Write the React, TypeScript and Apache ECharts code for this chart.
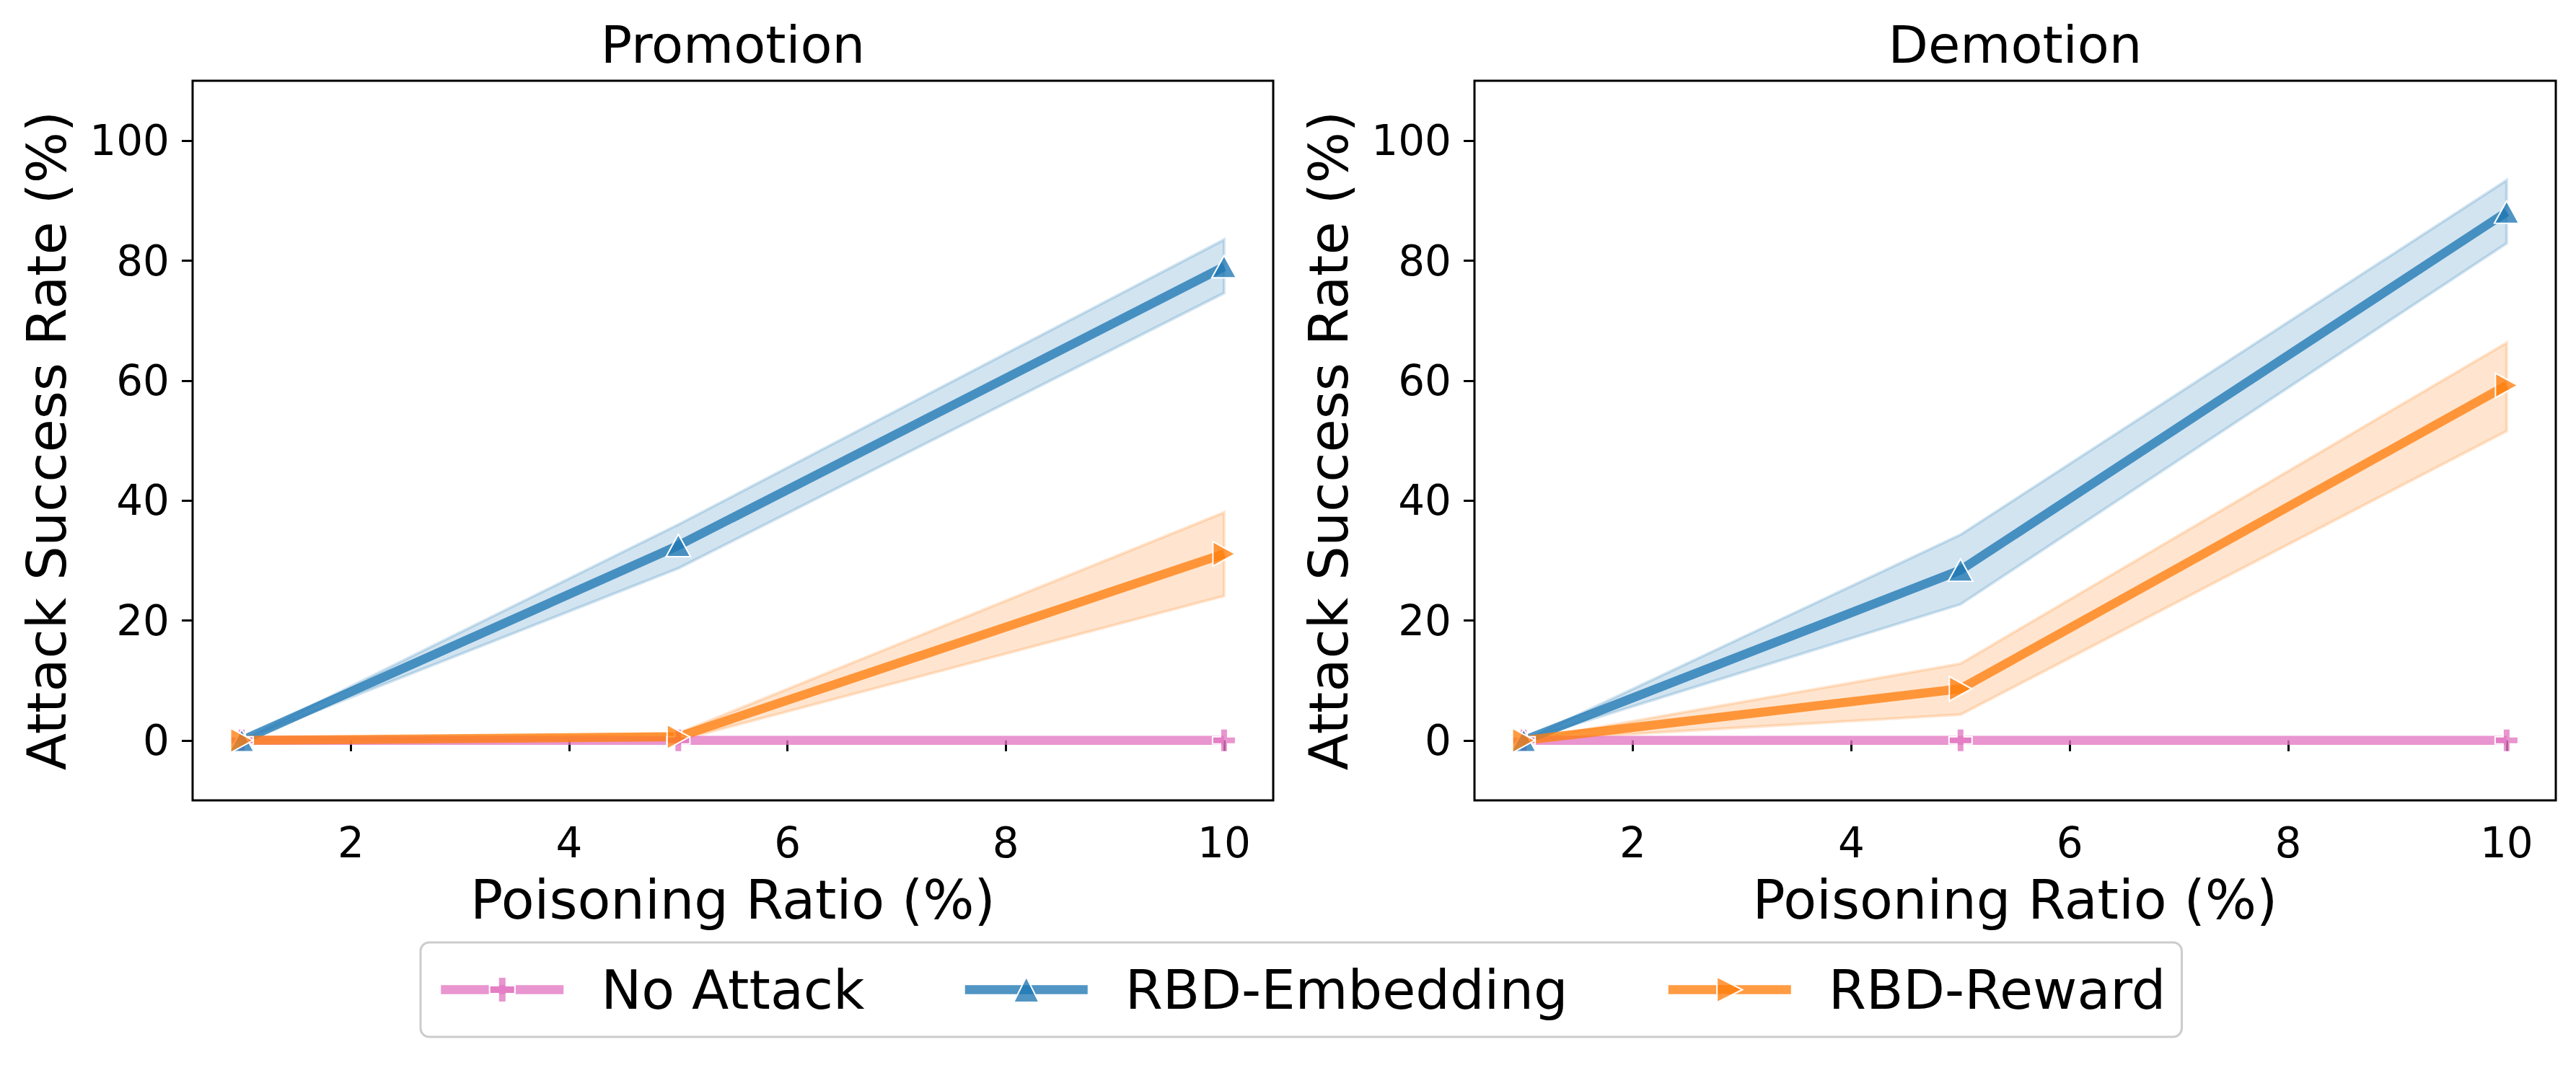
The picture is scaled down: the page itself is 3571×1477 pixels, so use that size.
import React, { useEffect, useRef } from 'react';
import * as echarts from 'echarts';

const ratios = [1, 5, 10];
const panelTitles = ['Promotion', 'Demotion'];
const seriesNames = ['No Attack', 'RBD-Embedding', 'RBD-Reward'];
const xTicks = [2, 4, 6, 8, 10];
const yTicks = [0, 20, 40, 60, 80, 100];

// Promotion panel
const promoNoAttack = [0, 0, 0];
const promoEmbedding = [0, 32.5, 79.0];
const promoEmbeddingLow = [0, 28.7, 74.6];
const promoEmbeddingHigh = [0, 36.0, 83.5];
const promoReward = [0, 0.6, 31.1];
const promoRewardLow = [0, 0.0, 24.1];
const promoRewardHigh = [0, 1.2, 38.0];

// Demotion panel
const demoNoAttack = [0, 0, 0];
const demoEmbedding = [0, 28.4, 88.1];
const demoEmbeddingLow = [0, 22.7, 82.9];
const demoEmbeddingHigh = [0, 34.3, 93.4];
const demoReward = [0, 8.6, 59.2];
const demoRewardLow = [0, 4.3, 51.6];
const demoRewardHigh = [0, 12.8, 66.3];

const FONT = 'DejaVu Sans';
const PINK = '#e377c2';
const BLUE = '#1f77b4';
const ORANGE = '#ff7f0e';
const LINE_ALPHA = 0.78;
const PLUS_PATH = 'path://M11,0H21V11H32V21H21V32H11V21H0V11H11Z';

const grids = [
  { left: 267, top: 112, width: 1498, height: 998 },
  { left: 2044, top: 112, width: 1499, height: 998 },
];

function rgba(hex: string, a: number) {
  const r = parseInt(hex.slice(1, 3), 16);
  const g = parseInt(hex.slice(3, 5), 16);
  const b = parseInt(hex.slice(5, 7), 16);
  return `rgba(${r},${g},${b},${a})`;
}

function bandSeries(gi: number, low: number[], high: number[], color: string) {
  return {
    type: 'custom',
    xAxisIndex: gi,
    yAxisIndex: gi,
    z: 1,
    silent: true,
    clip: true,
    data: ratios.map((x, i) => [x, low[i], high[i]]),
    renderItem: (params: any, api: any) => {
      if (params.dataIndex !== 0) return null;
      const upper = ratios.map((x, i) => api.coord([x, high[i]]));
      const lower = ratios.map((x, i) => api.coord([x, low[i]])).reverse();
      return {
        type: 'polygon',
        shape: { points: upper.concat(lower) },
        style: { fill: rgba(color, 0.2), stroke: rgba(color, 0.2), lineWidth: 4 },
      };
    },
  };
}

function lineSeries(gi: number, name: string, values: number[], color: string, symbol: string, symbolSize: any, rotate: number) {
  return {
    type: 'line',
    name,
    xAxisIndex: gi,
    yAxisIndex: gi,
    z: 3,
    data: ratios.map((x, i) => [x, values[i]]),
    symbol,
    symbolSize,
    symbolRotate: rotate,
    showSymbol: true,
    lineStyle: { color: rgba(color, LINE_ALPHA), width: 12.5 },
    itemStyle: { color: rgba(color, LINE_ALPHA), borderColor: '#ffffff', borderWidth: 2 },
    emphasis: { disabled: true },
  };
}

const panels = [
  { noAttack: promoNoAttack, emb: promoEmbedding, embLow: promoEmbeddingLow, embHigh: promoEmbeddingHigh, rew: promoReward, rewLow: promoRewardLow, rewHigh: promoRewardHigh },
  { noAttack: demoNoAttack, emb: demoEmbedding, embLow: demoEmbeddingLow, embHigh: demoEmbeddingHigh, rew: demoReward, rewLow: demoRewardLow, rewHigh: demoRewardHigh },
];

function buildOption() {
  const series: any[] = [];
  panels.forEach((p, gi) => {
    series.push(bandSeries(gi, p.embLow, p.embHigh, BLUE));
    series.push(bandSeries(gi, p.rewLow, p.rewHigh, ORANGE));
  });
  panels.forEach((p, gi) => {
    series.push(lineSeries(gi, seriesNames[0], p.noAttack, PINK, PLUS_PATH, 32, 0));
    series.push(lineSeries(gi, seriesNames[1], p.emb, BLUE, 'triangle', [34, 31], 0));
    series.push(lineSeries(gi, seriesNames[2], p.rew, ORANGE, 'triangle', [34, 31], -90));
  });

  return {
    animation: false,
    backgroundColor: '#ffffff',
    textStyle: { fontFamily: FONT },
    grid: grids.map((g) => ({ ...g, show: true, borderColor: '#000000', borderWidth: 3, backgroundColor: 'transparent', containLabel: false })),
    xAxis: grids.map((_, gi) => ({
      type: 'value',
      gridIndex: gi,
      min: 0.55,
      max: 10.45,
      name: 'Poisoning Ratio (%)',
      nameLocation: 'middle',
      nameGap: 100,
      nameTextStyle: { fontSize: 75, color: '#000', fontFamily: FONT },
      axisLine: { show: false },
      splitLine: { show: false },
      axisTick: { show: true, inside: false, length: 15, lineStyle: { color: '#000', width: 3 }, customValues: xTicks },
      axisLabel: { show: true, fontSize: 58, color: '#000', margin: 30, fontFamily: FONT, customValues: xTicks },
    })),
    yAxis: grids.map((_, gi) => ({
      type: 'value',
      gridIndex: gi,
      min: -10,
      max: 110,
      name: 'Attack Success Rate (%)',
      nameLocation: 'middle',
      nameGap: 165,
      nameTextStyle: { fontSize: 75, color: '#000', fontFamily: FONT },
      axisLine: { show: false },
      splitLine: { show: false },
      axisTick: { show: true, inside: false, length: 15, lineStyle: { color: '#000', width: 3 }, customValues: yTicks },
      axisLabel: { show: true, fontSize: 58, color: '#000', margin: 32, fontFamily: FONT, customValues: yTicks },
    })),
    legend: {
      data: seriesNames,
      orient: 'horizontal',
      left: 583,
      top: 1307,
      itemWidth: 170,
      itemHeight: 44,
      itemGap: 133,
      padding: [28, 22, 28, 22],
      borderColor: '#cccccc',
      borderWidth: 3,
      borderRadius: 12,
      backgroundColor: 'rgba(255,255,255,0.8)',
      selectedMode: false,
      lineStyle: { width: 12.5 },
      textStyle: { fontSize: 75, color: '#000', fontFamily: FONT, padding: [0, 0, 0, 47] },
    },
    graphic: panelTitles.map((t, gi) => ({
      type: 'text',
      x: grids[gi].left + grids[gi].width / 2,
      y: 62,
      style: { text: t, fontSize: 72, fontFamily: FONT, fill: '#000', align: 'center', verticalAlign: 'middle' },
    })),
    series,
  };
}

export default function App() {
  const ref = useRef<HTMLDivElement>(null);
  useEffect(() => {
    document.body.style.margin = '0';
    const chart = echarts.init(ref.current as HTMLDivElement, null, { renderer: 'svg' });
    chart.setOption(buildOption() as any);
    return () => chart.dispose();
  }, []);
  return <div ref={ref} style={{ width: 3571, height: 1477 }} />;
}
